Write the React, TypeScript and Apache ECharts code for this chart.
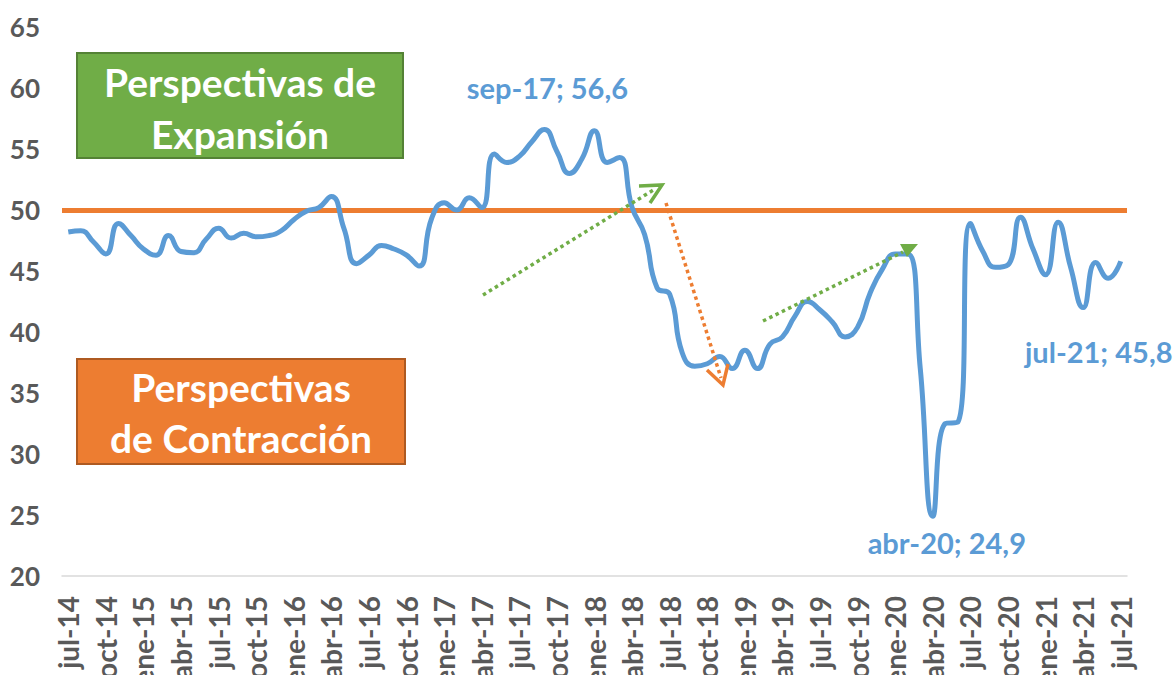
import React, { useEffect, useRef } from "react";
import * as echarts from "echarts";

const monthNames = ["ene", "feb", "mar", "abr", "may", "jun", "jul", "ago", "sep", "oct", "nov", "dic"];
// jul-14 ... jul-21 (85 months)
const categories: string[] = [];
for (let k = 0; k < 85; k++) {
  const m = (6 + k) % 12;
  const y = 14 + Math.floor((6 + k) / 12);
  categories.push(`${monthNames[m]}-${y}`);
}

const pmiValues = [
  48.2, 48.3, 47.4, 46.4, 48.9, 47.9, 46.8, 46.3, 47.9, 46.6, 46.5, 47.6,
  48.5, 47.7, 48.1, 47.8, 47.9, 48.3, 49.2, 49.9, 50.2, 51.1, 48.5, 45.6,
  46.3, 47.1, 46.8, 46.3, 45.4, 49.3, 50.6, 50.0, 51.0, 50.2, 54.6, 53.9,
  54.4, 55.6, 56.6, 54.8, 53.0, 54.2, 56.5, 53.9, 54.3, 50.2, 48.0, 43.6,
  43.1, 38.3, 37.2, 37.4, 38.0, 37.0, 38.5, 37.0, 39.0, 39.6, 41.3, 42.5,
  41.8, 40.8, 39.6, 40.4, 43.2, 45.2, 46.4, 46.4, 37.0, 24.9, 32.5, 32.6,
  48.9, 46.6, 45.3, 45.5, 49.4, 46.8, 44.7, 49.0, 45.3, 42.0, 45.7, 44.4,
  45.8,
];

const threshold = 50;
const yMin = 20;
const yMax = 65;
const yStep = 5;

// annotated points: index, label offset
const annotated = [
  { idx: 38, offset: [3, -42] },
  { idx: 69, offset: [14, 26] },
  { idx: 84, offset: [-22, 90] },
];

const fmt = (v: number) => String(v.toFixed(1)).replace(".", ",");

export default function App() {
  const ref = useRef<HTMLDivElement>(null);
  useEffect(() => {
    document.body.style.margin = "0";
    const chart = echarts.init(ref.current!, null, { renderer: "svg" });
    const font = "Lato, 'Open Sans', sans-serif";
    const dotGreen = { stroke: "#70AD47", lineWidth: 3.5, lineDash: [3.5, 3.5], fill: "none" };
    const dotOrange = { stroke: "#ED7D31", lineWidth: 3.5, lineDash: [3.5, 3.5], fill: "none" };
    chart.setOption({
      animation: false,
      backgroundColor: "#ffffff",
      grid: { left: 62, right: 48, top: 27, bottom: 99, containLabel: false, outerBoundsMode: "none" },
      xAxis: {
        type: "category",
        data: categories,
        boundaryGap: true,
        axisLine: { lineStyle: { color: "#D9D9D9", width: 1.5 } },
        axisTick: { show: false },
        axisLabel: {
          interval: 2,
          rotate: 90,
          fontSize: 28,
          fontWeight: "bold",
          color: "#595959",
          fontFamily: font,
          margin: 20,
        },
      },
      yAxis: {
        type: "value",
        min: yMin,
        max: yMax,
        interval: yStep,
        splitLine: { show: false },
        axisLine: { show: false },
        axisTick: { show: false },
        axisLabel: {
          fontSize: 26,
          fontWeight: "bold",
          color: "#595959",
          fontFamily: font,
          margin: 22,
        },
      },
      series: [
        {
          type: "line",
          data: pmiValues,
          smooth: 0.5,
          symbol: "none",
          lineStyle: { color: "#5B9BD5", width: 5 },
          z: 3,
          markLine: {
            silent: true,
            symbol: "none",
            label: { show: false },
            lineStyle: { color: "#ED7D31", width: 5, type: "solid" },
            data: [{ yAxis: threshold }],
            z: 2,
          },
          markPoint: {
            symbol: "circle",
            symbolSize: 1,
            itemStyle: { color: "rgba(0,0,0,0)" },
            data: annotated.map((a) => ({
              name: categories[a.idx],
              coord: [categories[a.idx], pmiValues[a.idx]],
              value: pmiValues[a.idx],
              label: {
                show: true,
                position: "inside",
                offset: a.offset,
                formatter: `${categories[a.idx]}; ${fmt(pmiValues[a.idx])}`,
                color: "#5B9BD5",
                fontSize: 29,
                fontWeight: "bold",
                fontFamily: font,
              },
            })),
          },
        },
      ],
      graphic: [
        {
          type: "rect",
          shape: { x: 77, y: 53, width: 326, height: 105 },
          style: { fill: "#70AD47", stroke: "#548235", lineWidth: 2 },
          z: 10,
        },
        {
          type: "text",
          x: 240,
          y: 108,
          style: {
            text: "Perspectivas de\nExpansión",
            fill: "#ffffff",
            font: `bold 39px ${font}`,
            align: "center",
            verticalAlign: "middle",
            lineHeight: 52,
          },
          z: 11,
        },
        {
          type: "rect",
          shape: { x: 77, y: 359, width: 328, height: 105 },
          style: { fill: "#ED7D31", stroke: "#AE5A21", lineWidth: 2 },
          z: 10,
        },
        {
          type: "text",
          x: 241,
          y: 412,
          style: {
            text: "Perspectivas\nde Contracción",
            fill: "#ffffff",
            font: `bold 39px ${font}`,
            align: "center",
            verticalAlign: "middle",
            lineHeight: 51,
          },
          z: 11,
        },
        // green arrow 1
        { type: "line", shape: { x1: 483, y1: 295, x2: 655, y2: 189 }, style: dotGreen, z: 5 },
        {
          type: "polyline",
          shape: { points: [[639, 186], [662, 185], [650, 203]] },
          style: { stroke: "#70AD47", lineWidth: 3.5, fill: "none" },
          z: 5,
        },
        // orange arrow
        { type: "line", shape: { x1: 666, y1: 203, x2: 721, y2: 378 }, style: dotOrange, z: 5 },
        {
          type: "polyline",
          shape: { points: [[707, 370], [723, 385], [728, 364]] },
          style: { stroke: "#ED7D31", lineWidth: 3.5, fill: "none" },
          z: 5,
        },
        // green arrow 2
        { type: "line", shape: { x1: 763, y1: 321, x2: 903, y2: 252 }, style: dotGreen, z: 5 },
        {
          type: "polygon",
          shape: { points: [[900, 244], [918, 244], [907, 257]] },
          style: { fill: "#70AD47" },
          z: 5,
        },
      ],
    });
    return () => chart.dispose();
  }, []);
  return <div ref={ref} style={{ width: 1175, height: 675 }} />;
}
